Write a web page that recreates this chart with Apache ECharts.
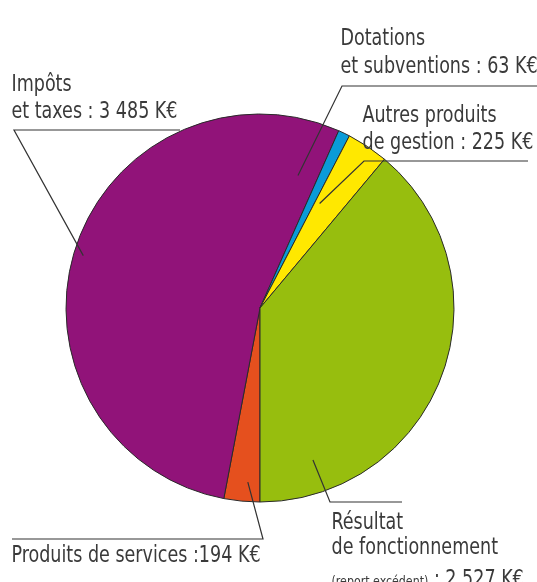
<!DOCTYPE html>
<html>
<head>
<meta charset="utf-8">
<script src="https://cdn.jsdelivr.net/npm/echarts@6/dist/echarts.min.js"></script>
<style>
  html, body { margin: 0; padding: 0; background: #fff; }
  #main { width: 537px; height: 582px; }
</style>
</head>
<body>
<div id="main"></div>
<script>
// données (K€), ordre : depuis le bas, sens horaire
var names = ['Produits de services', 'Impôts et taxes', 'Dotations et subventions', 'Autres produits de gestion', 'Résultat de fonctionnement'];
var values = [194, 3485, 63, 225, 2527];
var colors = ['#e5501e', '#911379', '#0a9bd8', '#ffe800', '#97be0e'];
var labelHeads = ['Produits de services :', 'Impôts\net taxes : ', 'Dotations\net subventions : ', 'Autres produits\nde gestion : ', 'Résultat\nde fonctionnement\n{s|(report excédent)} : '];

// choix d'une police étroite disponible
function pickFont(list){
    var c = document.createElement('canvas').getContext('2d');
    var t = 'et taxes : 3 485 K€';
    c.font = '40px monospace';
    var base = c.measureText(t).width;
    for (var i = 0; i < list.length; i++) {
        c.font = '40px "' + list[i] + '", monospace';
        if (c.measureText(t).width !== base) return list[i];
    }
    return 'sans-serif';
}
var font = pickFont(['Liberation Sans Narrow', 'DejaVu Sans Condensed', 'Roboto']);
var fontSize = 23;
// compression horizontale pour retrouver la largeur d'une police étroite
var squeeze = (function(){
    var c = document.createElement('canvas').getContext('2d');
    c.font = fontSize + 'px "' + font + '"';
    var w = c.measureText('et taxes : 3 485 K€').width;
    return Math.min(1, 166 / w);
})();

function fmt(v){
    return String(v).replace(/\B(?=(\d{3})+(?!\d))/g, ' ');
}

var cx = 260, cy = 308, R = 194;
// position des étiquettes : [x, y haut], ancre [angle depuis le haut, fraction du rayon], coude, fin du trait
var labelPos = [
    {x: 11.5, y: 542, anchor: [184, 0.9], elbow: [263, 539], end: [12, 539]},
    {x: 11.5, y: 71, anchor: [286.5, 0.95], elbow: [14, 130], end: [180, 130]},
    {x: 340.5, y: 25.5, anchor: [16, 0.71], elbow: [342, 86], end: [537, 86]},
    {x: 362.5, y: 102, anchor: [29.7, 0.62], elbow: [364, 161], end: [528, 161]},
    {x: 331.5, y: 511, anchor: [160.8, 0.83], elbow: [330, 502], end: [402, 502]}
];

var myChart = echarts.init(document.getElementById('main'));
var data = values.map(function(v, i){
    var item = {name: names[i], value: v, itemStyle: {color: colors[i]}};
    if (i === 4) item.label = {lineHeight: 25};
    return item;
});

option = {
    animation: false,
    textStyle: {fontFamily: font},
    series: [{
        type: 'pie',
        center: [cx, cy],
        radius: R,
        startAngle: -90,
        clockwise: true,
        silent: true,
        data: data,
        itemStyle: {
            borderColor: '#2a2a2a',
            borderWidth: 1
        },
        label: {
            show: true,
            position: 'outside',
            overflow: 'none',
            color: '#3a3a3a',
            fontFamily: font,
            fontSize: fontSize,
            lineHeight: 27.5,
            formatter: function(p){
                return labelHeads[p.dataIndex] + fmt(p.value) + ' K€';
            },
            rich: {
                s: {fontSize: 14.5, fontFamily: font, color: '#3a3a3a', lineHeight: 39, padding: [3, 0, 0, 0]}
            }
        },
        labelLine: {
            show: true,
            showAbove: true,
            lineStyle: {color: '#333', width: 1.2}
        },
        labelLayout: function(params){
            var lp = labelPos[params.dataIndex];
            var a = lp.anchor[0] * Math.PI / 180;
            var ax = cx + Math.sin(a) * R * lp.anchor[1];
            var ay = cy - Math.cos(a) * R * lp.anchor[1];
            return {
                x: lp.x,
                y: lp.y,
                width: 400,
                align: 'left',
                verticalAlign: 'top',
                labelLinePoints: [[ax, ay], lp.elbow, lp.end]
            };
        }
    }]
};

// resserrer les étiquettes (pas de police étroite installée) et passer les traits au-dessus
function touchUp(){
    var zr = myChart.getZr();
    zr.storage.getRoots().forEach(function(root){
        var visit = function(el){
            var t = el.getTextContent && el.getTextContent();
            if (t && t.scaleX !== squeeze) {
                t.scaleX = squeeze;
                t.originX = 0;
                t.markRedraw();
            }
            var g = el.getTextGuideLine && el.getTextGuideLine();
            if (g && g.z2 < 100) {
                g.z2 = 100;
                g.markRedraw();
            }
        };
        visit(root);
        if (root.traverse) root.traverse(visit);
    });
    zr.refreshImmediately();
}
myChart.on('finished', touchUp);
myChart.setOption(option);
touchUp();

window.onresize = function(){
    myChart.resize();
}
</script>
</body>
</html>
